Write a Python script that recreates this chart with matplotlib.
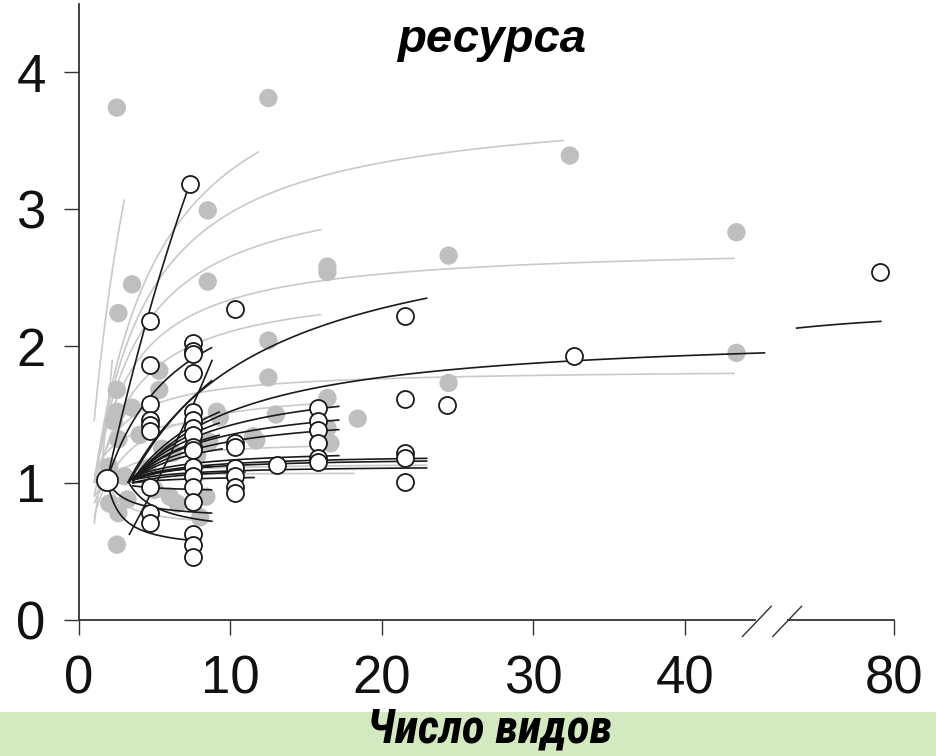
import numpy as np
import matplotlib
matplotlib.use('Agg')
import matplotlib.pyplot as plt
from matplotlib import font_manager as fm
from matplotlib.patches import Rectangle

# gray filled points (x = число видов, y = ratio)
gray_x = [2.5, 12.5, 8.5, 32.4, 8.5, 16.4, 16.4, 24.4, 43.4, 43.4, 3.5, 2.6, 12.5,
          24.4, 18.4, 16.4, 16.6, 12.5, 11.5, 9.1, 8.4, 8.0, 2.5, 2.5, 2.5, 2.6,
          2.0, 2.0, 2.6, 3.2, 3.5, 4.0, 4.5, 5.0, 5.3, 5.3, 5.5, 6.2, 6.5, 7.8,
          8.6, 9.3, 10.3, 11.7, 13.0, 16.4, 2.3, 3.0, 6.0]
gray_y = [3.74, 3.81, 2.99, 3.39, 2.47, 2.58, 2.54, 2.66, 2.83, 1.95, 2.45, 2.24, 2.04,
          1.73, 1.47, 1.62, 1.29, 1.77, 1.34, 1.52, 0.90, 0.75, 0.55, 1.68, 1.52, 1.32,
          1.12, 0.85, 0.78, 0.88, 1.55, 1.35, 1.10, 0.95, 1.68, 1.82, 1.25, 1.22, 0.85, 1.20,
          1.30, 1.48, 1.05, 1.31, 1.50, 1.40, 1.45, 1.05, 0.90]

# gray fitted curves: start / end points
gray_x0 = [1.0, 1.0, 1.0, 1.0, 1.0, 1.0, 1.0, 1.0, 1.0, 1.0, 2.0, 1.0, 1.0, 1.0]
gray_y0 = [1.45, 1.0, 1.0, 1.0, 1.0, 0.9, 1.0, 0.75, 0.85, 1.0, 0.97, 1.05, 0.7, 0.9]
gray_x1 = [3.0, 11.9, 32.0, 16.0, 43.3, 16.0, 43.3, 15.8, 16.5, 18.2, 8.9, 8.5, 2.2, 23.0]
gray_y1 = [3.07, 3.42, 3.50, 2.85, 2.64, 2.23, 1.80, 1.58, 1.27, 1.07, 0.72, 1.45, 1.9, 1.13]

# black fitted curves: start / end points
black_x0 = [1.85, 1.85, 1.85, 3.3, 1.85, 3.3, 3.3, 3.2, 3.5, 56.0, 3.5, 3.5, 3.5, 3.5,
            3.5, 3.5, 3.5, 3.5, 3.5, 3.5, 3.5, 3.5, 3.5, 3.5, 3.5]
black_y0 = [1.02, 1.02, 1.02, 1.00, 1.02, 0.62, 1.00, 1.00, 1.00, 2.13, 1.02, 1.02, 1.02, 1.03,
            1.03, 1.02, 1.04, 1.00, 1.00, 1.02, 1.02, 1.02, 1.02, 1.02, 0.98]
black_x1 = [7.3, 7.5, 8.8, 8.8, 8.8, 8.8, 8.8, 23.0, 45.3, 77.0, 17.2, 17.2, 17.2, 23.0,
            23.0, 23.0, 17.2, 11.6, 11.0, 9.3, 9.3, 9.3, 9.5, 8.8, 8.8]
black_y1 = [3.18, 0.58, 0.78, 0.72, 1.99, 1.90, 1.75, 2.35, 1.95, 2.18, 1.56, 1.46, 1.39, 1.18,
            1.16, 1.11, 1.20, 1.04, 1.08, 1.52, 1.44, 1.35, 1.25, 1.12, 0.95]

# open circles
open_x = [4.7, 4.7, 4.7, 4.7, 4.7, 4.7, 4.7, 4.7, 4.7,
          7.3, 7.5, 7.5, 7.5, 7.5, 7.5, 7.5, 7.5, 7.5, 7.5, 7.5, 7.5, 7.5, 7.5, 7.5, 7.5, 7.5, 7.5,
          10.3, 10.3, 10.3, 10.3, 10.3, 10.3, 10.3, 13.1,
          15.8, 15.8, 15.8, 15.8, 15.8, 15.8,
          21.5, 21.5, 21.5, 21.5, 21.5, 24.3, 32.7, 76.6]
open_y = [2.18, 1.86, 1.58, 1.46, 1.42, 1.38, 0.97, 0.78, 0.71,
          3.18, 2.02, 1.96, 1.94, 1.80, 1.52, 1.46, 1.40, 1.35, 1.26, 1.24, 1.12, 1.05, 0.97, 0.86, 0.63, 0.55, 0.46,
          2.27, 1.29, 1.26, 1.11, 1.05, 0.97, 0.93, 1.13,
          1.55, 1.45, 1.39, 1.29, 1.18, 1.15,
          2.22, 1.61, 1.22, 1.18, 1.01, 1.57, 1.93, 2.54]
start_x = [1.85]
start_y = [1.02]

xticks_real = [0, 10, 20, 30, 40, 80]
yticks = [0, 1, 2, 3, 4]


def pick(fams):
    for f in fams:
        try:
            fm.findfont(fm.FontProperties(family=f), fallback_to_default=False)
            return f
        except Exception:
            pass
    return 'DejaVu Sans'


FONT = pick(['Liberation Sans', 'Arial', 'DejaVu Sans'])
NARROW = pick(['Liberation Sans Narrow', 'Roboto Condensed', 'Liberation Sans', 'DejaVu Sans'])
narrow_ok = NARROW not in ('Liberation Sans', 'DejaVu Sans')


def to_u(x):
    # broken axis: 0..45 linear, then compressed segment up to 80
    x = np.asarray(x, dtype=float)
    return np.where(x <= 50, x, 53.8 - (80 - x) * 0.27)


def mm_curve(x0, y0, x1, y1, n=120):
    # Michaelis-Menten type fit  y = ym*x/(k+x) through both end points
    k = x1 * (y0 - y1) / (y1 - y0 * x1 / x0)
    ym = y0 * (k + x0) / x0
    xs = np.linspace(x0, x1, n)
    return xs, ym * xs / (k + xs)


fig = plt.figure(figsize=(9.36, 7.56), dpi=100)
fig.patches.append(Rectangle((0, 0), 1, 44 / 756, transform=fig.transFigure,
                             facecolor='#d3e9c0', edgecolor='none', zorder=0))
ax = fig.add_axes([79 / 936, 1 - 620 / 756, (894 - 79) / 936, (620 - 3.5) / 756])
ax.patch.set_alpha(0)

for x0, y0, x1, y1 in zip(gray_x0, gray_y0, gray_x1, gray_y1):
    xs, ys = mm_curve(x0, y0, x1, y1)
    ax.plot(to_u(xs), ys, color='#c9c9c9', lw=1.2, zorder=1, solid_capstyle='butt')

ax.scatter(to_u(gray_x), gray_y, s=175, color='#bfbfbf', edgecolors='none', zorder=2)

for x0, y0, x1, y1 in zip(black_x0, black_y0, black_x1, black_y1):
    xs, ys = mm_curve(x0, y0, x1, y1)
    ax.plot(to_u(xs), ys, color='#1a1a1a', lw=1.2, zorder=3, solid_capstyle='butt')

ax.scatter(to_u(open_x), open_y, s=150, facecolors='white', edgecolors='#1a1a1a',
           linewidths=1.3, zorder=4)
ax.scatter(to_u(start_x), start_y, s=230, facecolors='white', edgecolors='#1a1a1a',
           linewidths=1.3, zorder=5)

ax.set_xlim(0, 53.8)
ax.set_ylim(0, 4.5)
for s in ['top', 'right']:
    ax.spines[s].set_visible(False)
ax.spines['left'].set_color('#333333')
ax.spines['left'].set_linewidth(1.3)
ax.spines['bottom'].set_color('#333333')
ax.spines['bottom'].set_linewidth(1.3)
ax.spines['bottom'].set_bounds(0, 44.6)

# right part of the broken x axis and the break marks
ax.plot([46.8, 53.8], [0, 0], color='#333333', lw=1.3, clip_on=False, zorder=6)
for bx in [43.8, 45.8]:
    ax.plot([bx, bx + 1.9], [-0.12, 0.10], color='#333333', lw=1.0, clip_on=False, zorder=6)

ax.set_xticks(to_u(xticks_real))
ax.set_xticklabels([str(v) for v in xticks_real])
ax.set_yticks(yticks)
ax.set_yticklabels([str(v) for v in yticks])
ax.tick_params(axis='both', direction='out', length=11, width=1.0, color='#333333',
               labelsize=38, labelcolor='#111111')
ax.tick_params(axis='y', pad=13)
ax.tick_params(axis='x', pad=14)
for lab in ax.get_xticklabels() + ax.get_yticklabels():
    lab.set_fontfamily(FONT)

fig.text(0.525, 1 - 40 / 756, 'ресурса', fontsize=34, fontweight='bold', fontstyle='italic',
         family=FONT, ha='center', va='center', color='black')
fig.text(0.523, 1 - 729 / 756, 'Число видов', fontsize=(34 if narrow_ok else 28),
         fontweight='bold', fontstyle='italic', family=NARROW, ha='center', va='center',
         color='black')

fig.savefig('out.png', dpi=100)
